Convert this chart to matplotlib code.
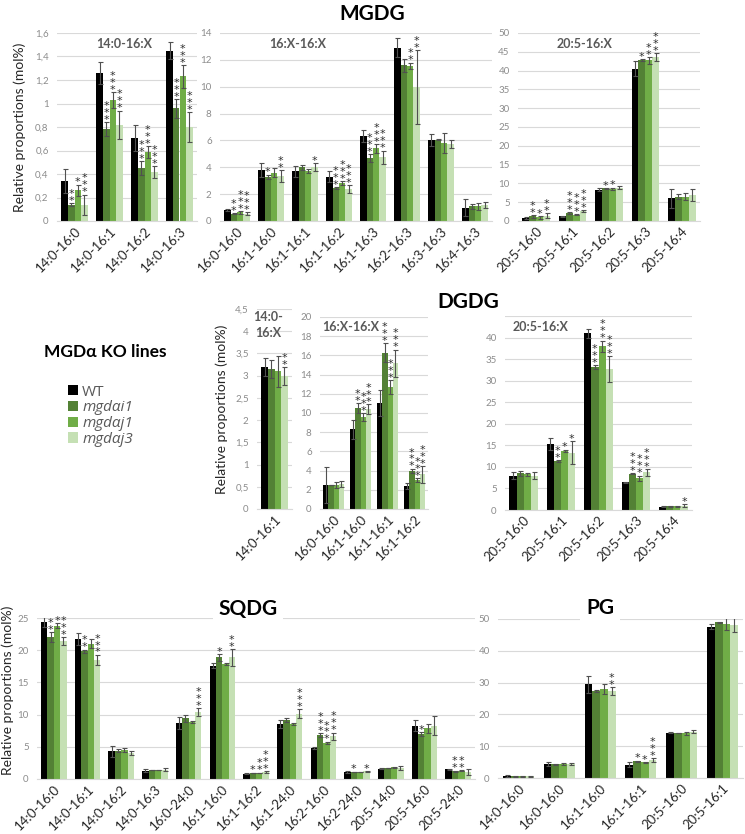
import matplotlib
matplotlib.use("Agg")
import matplotlib.pyplot as plt
from matplotlib.patches import Patch
from matplotlib.ticker import FuncFormatter

plt.rcParams["font.family"] = ["Lato", "DejaVu Sans"]

W, H = 745, 834

lines = ["WT", "mgdαi1", "mgdαj1", "mgdαj3"]
colors = ["#000000", "#538135", "#70ad47", "#c5e0b4"]

# ---- MGDG ----
mg1_cats = ["14:0-16:0", "14:0-16:1", "14:0-16:2", "14:0-16:3"]
mg1_vals = [[0.34, 1.26, 0.71, 1.45],
            [0.14, 0.78, 0.45, 0.96],
            [0.26, 1.03, 0.59, 1.23],
            [0.14, 0.82, 0.42, 0.80]]
mg1_errs = [[0.10, 0.09, 0.11, 0.07],
            [0.015, 0.06, 0.06, 0.08],
            [0.05, 0.07, 0.05, 0.10],
            [0.085, 0.12, 0.05, 0.13]]
mg1_stars = [["", "", "", ""],
             ["**", "***", "***", "***"],
             ["*", "***", "***", "***"],
             ["***", "***", "***", "***"]]

mg2_cats = ["16:0-16:0", "16:1-16:0", "16:1-16:1", "16:1-16:2",
            "16:1-16:3", "16:2-16:3", "16:3-16:3", "16:4-16:3"]
mg2_vals = [[0.8, 3.8, 3.7, 3.3, 6.35, 12.9, 6.05, 1.0],
            [0.55, 3.3, 4.0, 2.45, 4.7, 11.6, 6.05, 1.1],
            [0.65, 3.6, 3.75, 2.8, 5.4, 11.55, 5.8, 1.1],
            [0.55, 3.35, 4.0, 2.4, 4.75, 10.0, 5.7, 1.2]]
mg2_errs = [[0.08, 0.55, 0.4, 0.4, 0.45, 0.7, 0.45, 0.65],
            [0.05, 0.15, 0.2, 0.1, 0.3, 0.5, 0.05, 0.2],
            [0.1, 0.35, 0.15, 0.15, 0.3, 0.25, 0.75, 0.25],
            [0.1, 0.45, 0.3, 0.3, 0.5, 2.75, 0.3, 0.2]]
mg2_stars = [[""] * 8,
             ["**", "*", "", "***", "***", "", "", ""],
             ["***", "", "", "***", "***", "**", "", ""],
             ["***", "**", "*", "***", "***", "**", "", ""]]

mg3_cats = ["20:5-16:0", "20:5-16:1", "20:5-16:2", "20:5-16:3", "20:5-16:4"]
mg3_vals = [[0.8, 1.2, 8.3, 40.5, 6.0],
            [1.2, 2.1, 8.7, 42.8, 6.5],
            [1.0, 1.7, 8.6, 42.7, 6.5],
            [1.4, 2.6, 8.9, 43.6, 6.8]]
mg3_errs = [[0.2, 0.2, 0.4, 2.0, 2.6],
            [0.3, 0.2, 0.15, 0.3, 0.7],
            [0.4, 0.2, 0.3, 0.9, 1.0],
            [0.6, 0.2, 0.4, 1.0, 1.6]]
mg3_stars = [[""] * 5,
             ["**", "***", "*", "*", ""],
             ["*", "***", "*", "**", ""],
             ["**", "***", "", "***", ""]]

# ---- DGDG ----
dg1_cats = ["14:0-16:1"]
dg1_vals = [[3.2], [3.15], [3.1], [3.0]]
dg1_errs = [[0.2], [0.2], [0.35], [0.2]]
dg1_stars = [[""], [""], [""], ["**"]]

dg2_cats = ["16:0-16:0", "16:1-16:0", "16:1-16:1", "16:1-16:2"]
dg2_vals = [[2.5, 8.3, 11.0, 2.4],
            [2.5, 10.5, 16.3, 3.95],
            [2.5, 9.6, 12.7, 3.0],
            [2.6, 10.4, 15.2, 3.6]]
dg2_errs = [[1.9, 1.0, 1.35, 0.35],
            [0.05, 0.5, 1.0, 0.25],
            [0.35, 0.4, 0.7, 0.2],
            [0.35, 0.5, 1.4, 0.9]]
dg2_stars = [[""] * 4,
             ["", "**", "***", "***"],
             ["", "***", "***", "***"],
             ["", "***", "***", "***"]]

dg3_cats = ["20:5-16:0", "20:5-16:1", "20:5-16:2", "20:5-16:3", "20:5-16:4"]
dg3_vals = [[8.0, 15.3, 41.0, 6.4, 0.8],
            [8.5, 11.3, 33.2, 8.4, 0.9],
            [8.3, 13.7, 38.0, 7.4, 0.9],
            [8.0, 13.3, 32.7, 8.7, 1.0]]
dg3_errs = [[0.8, 1.3, 1.0, 0.2, 0.2],
            [0.5, 0.2, 0.4, 0.1, 0.1],
            [0.3, 0.3, 1.3, 0.6, 0.1],
            [0.8, 2.7, 3.0, 0.8, 0.3]]
dg3_stars = [[""] * 5,
             ["", "**", "***", "***", ""],
             ["", "*", "***", "***", ""],
             ["", "*", "***", "***", "*"]]

# ---- SQDG ----
sq_cats = ["14:0-16:0", "14:0-16:1", "14:0-16:2", "14:0-16:3", "16:0-24:0",
           "16:1-16:0", "16:1-16:2", "16:1-24:0", "16:2-16:0", "16:2-24:0",
           "20:5-14:0", "20:5-16:0", "20:5-24:0"]
sq_vals = [[24.4, 21.7, 4.3, 1.3, 8.7, 17.6, 0.8, 8.5, 4.8, 1.1, 1.6, 8.3, 1.5],
           [22.0, 19.8, 4.4, 1.4, 9.4, 18.9, 0.95, 9.1, 6.8, 1.1, 1.7, 7.0, 1.2],
           [23.8, 21.0, 4.5, 1.4, 8.8, 17.9, 0.95, 8.5, 5.6, 1.1, 1.8, 7.9, 1.3],
           [21.4, 18.5, 4.1, 1.45, 10.4, 18.9, 1.1, 10.1, 6.6, 1.2, 1.7, 8.3, 1.1]]
sq_errs = [[0.8, 0.9, 0.9, 0.2, 1.0, 0.4, 0.1, 0.6, 0.2, 0.1, 0.1, 0.9, 0.1],
           [0.8, 0.3, 0.2, 0.05, 0.5, 0.5, 0.05, 0.3, 0.3, 0.05, 0.05, 0.3, 0.1],
           [0.4, 0.7, 0.3, 0.05, 0.15, 0.15, 0.05, 0.15, 0.2, 0.05, 0.1, 0.7, 0.1],
           [0.6, 0.8, 0.3, 0.25, 0.6, 1.3, 0.1, 0.7, 0.6, 0.05, 0.3, 1.5, 0.5]]
sq_stars = [[""] * 13,
            ["**", "**", "", "", "", "*", "*", "", "***", "*", "", "*", "**"],
            ["*", "", "", "", "", "", "**", "", "***", "", "", "", "**"],
            ["***", "***", "", "", "***", "**", "***", "***", "***", "*", "", "", ""]]

# ---- PG ----
pg_cats = ["14:0-16:0", "16:0-16:0", "16:1-16:0", "16:1-16:1", "20:5-16:0", "20:5-16:1"]
pg_vals = [[0.6, 4.5, 29.5, 4.2, 14.3, 47.5],
           [0.5, 4.3, 27.4, 5.3, 14.1, 48.9],
           [0.5, 4.4, 28.1, 4.9, 14.0, 48.3],
           [0.5, 4.4, 27.3, 5.6, 14.6, 48.0]]
pg_errs = [[0.2, 0.6, 2.7, 0.8, 0.3, 0.8],
           [0.1, 0.1, 0.4, 0.2, 0.1, 0.3],
           [0.1, 0.4, 1.6, 0.2, 0.5, 1.9],
           [0.1, 0.4, 1.2, 0.6, 0.4, 2.2]]
pg_stars = [[""] * 6,
            ["", "", "", "*", "", ""],
            ["", "", "", "*", "", ""],
            ["", "", "**", "***", "", ""]]

fig = plt.figure(figsize=(W / 100, H / 100), dpi=100)


def make_ax(x0, y0, x1, y1):
    return fig.add_axes([x0 / W, 1 - y1 / H, (x1 - x0) / W, (y1 - y0) / H])


def ftext(x, y, s, **kw):
    fig.text(x / W, 1 - y / H, s, **kw)


def comma(v, pos):
    return f"{v:g}".replace(".", ",")


def panel(ax, cats, vals, errs, stars, ymax, step, labels_to=None):
    n = len(cats)
    w = 0.19
    ax.set_axisbelow(True)
    for k in range(4):
        xs = [i + (k - 1.5) * w for i in range(n)]
        ax.bar(xs, vals[k], width=w, color=colors[k], zorder=2)
        ax.errorbar(xs, vals[k], yerr=errs[k], fmt="none", ecolor="#505050",
                    elinewidth=0.8, capsize=1.8, capthick=0.8, zorder=3)
        for i in range(n):
            s = stars[k][i]
            if s:
                ax.annotate("\n".join(s), (xs[i], vals[k][i] + errs[k][i]),
                            xytext=(0, -2), textcoords="offset points",
                            ha="center", va="bottom", fontsize=8,
                            family="DejaVu Sans", linespacing=0.62,
                            color="#303030", zorder=4)
    ticks = [step * j for j in range(int(round(ymax / step)) + 1)]
    ax.set_ylim(0, ymax)
    ax.set_yticks(ticks)
    ax.yaxis.set_major_formatter(FuncFormatter(comma))
    if labels_to is not None:
        ax.set_yticklabels([comma(t, 0) if t <= labels_to else "" for t in ticks])
    ax.set_xlim(-0.5, n - 0.5)
    ax.set_xticks(range(n))
    ax.set_xticklabels(cats, rotation=45, ha="right", rotation_mode="anchor",
                       fontsize=9.5, color="#262626")
    ax.tick_params(axis="x", length=0, pad=3)
    ax.tick_params(axis="y", length=0, labelsize=7, labelcolor="#8c8c8c", pad=6)
    ax.grid(axis="y", color="#d9d9d9", linewidth=0.8)
    for sp in ["top", "right", "left"]:
        ax.spines[sp].set_visible(False)
    ax.spines["bottom"].set_color("#d9d9d9")
    ax.spines["bottom"].set_linewidth(0.8)


sub_kw = dict(fontsize=9, fontweight="bold", color="#595959", ha="center", va="center")
ylab_kw = dict(fontsize=10, color="#262626", rotation=90, ha="center", va="center")

# MGDG row
ax = make_ax(57, 33, 197, 221)
panel(ax, mg1_cats, mg1_vals, mg1_errs, mg1_stars, 1.6, 0.2)
ftext(124, 44, "14:0-16:X", **sub_kw)
ax = make_ax(220, 33, 492, 221)
panel(ax, mg2_cats, mg2_vals, mg2_errs, mg2_stars, 14, 2)
ftext(298, 44, "16:X-16:X", **sub_kw)
ax = make_ax(518, 33, 700, 221)
panel(ax, mg3_cats, mg3_vals, mg3_errs, mg3_stars, 50, 5)
ftext(585, 44, "20:5-16:X", **sub_kw)
ftext(372, 14, "MGDG", fontsize=15, fontweight="bold", ha="center", va="center")
ftext(20, 127, "Relative proportions (mol%)", **ylab_kw)

# DGDG row
ax = make_ax(257, 309, 292, 509)
panel(ax, dg1_cats, dg1_vals, dg1_errs, dg1_stars, 4.5, 0.5)
ftext(268, 325, "14:0-\n16:X", linespacing=1.4, **sub_kw)
ax = make_ax(320, 317, 428, 509)
panel(ax, dg2_cats, dg2_vals, dg2_errs, dg2_stars, 20, 2)
ftext(351, 327, "16:X-16:X", **sub_kw)
ax = make_ax(505, 316, 692, 510)
panel(ax, dg3_cats, dg3_vals, dg3_errs, dg3_stars, 45, 5, labels_to=40)
ftext(541, 327, "20:5-16:X", **sub_kw)
ftext(468, 302, "DGDG", fontsize=15, fontweight="bold", ha="center", va="center")
ftext(222, 409, "Relative proportions (mol%)", **ylab_kw)

# legend
ftext(105, 352, "MGDα KO lines", fontsize=12.5, fontweight="bold", ha="center", va="center")
handles = [Patch(facecolor=c, edgecolor="none") for c in colors]
leg = fig.legend(handles, lines, loc="upper left", bbox_to_anchor=(60 / W, 1 - 377 / H),
                 frameon=False, handlelength=0.65, handleheight=0.65,
                 prop={"family": ["Open Sans", "DejaVu Sans"], "size": 11},
                 handletextpad=0.3, labelspacing=0.05, borderpad=0)
for i, t in enumerate(leg.get_texts()):
    t.set_color("#595959")
    if i > 0:
        t.set_style("italic")

# SQDG
ax = make_ax(37, 618, 475, 779)
panel(ax, sq_cats, sq_vals, sq_errs, sq_stars, 25, 5)
ftext(248, 609, "SQDG", fontsize=15, fontweight="bold", ha="center", va="center",
      bbox=dict(facecolor="white", edgecolor="none", pad=4))
ftext(8, 690, "Relative proportions (mol%)", **ylab_kw)

# PG
ax = make_ax(498, 619, 743, 778)
panel(ax, pg_cats, pg_vals, pg_errs, pg_stars, 50, 10)
ftext(600, 608, "PG", fontsize=15, fontweight="bold", ha="center", va="center",
      bbox=dict(facecolor="white", edgecolor="none", pad=4))

fig.savefig("out.png", dpi=100)
